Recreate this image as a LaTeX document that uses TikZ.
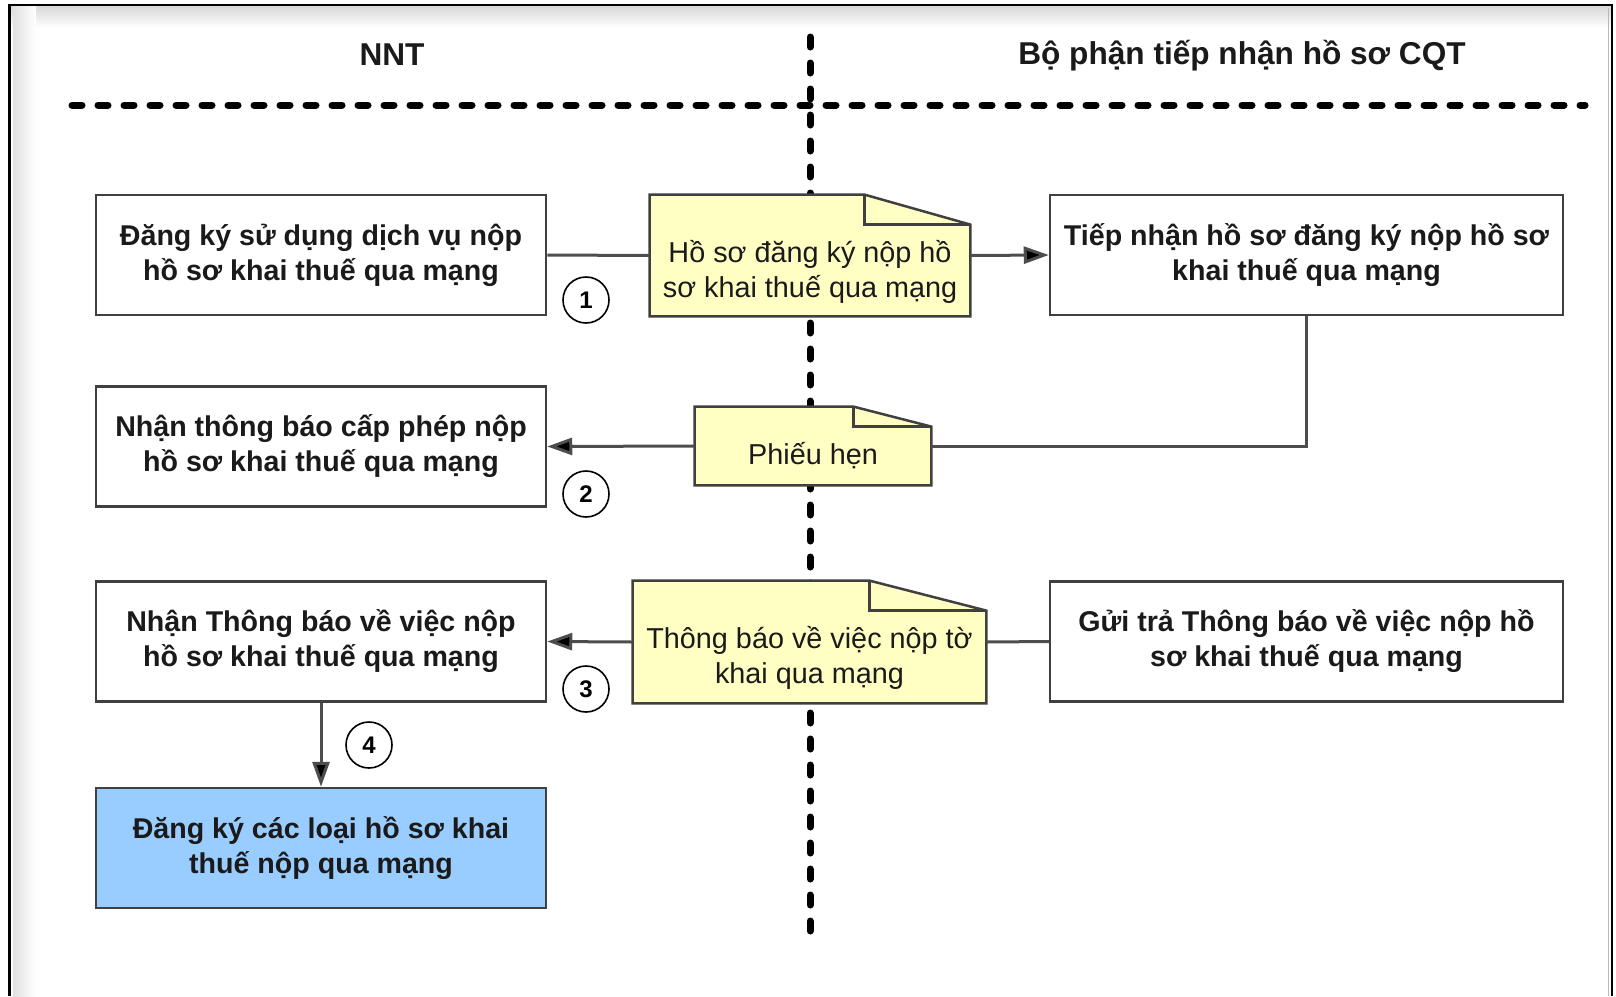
\documentclass[tikz,border=0pt]{standalone}
\usepackage{fontspec}
\setmainfont{Liberation Sans}
\usetikzlibrary{arrows.meta,calc}
\pgfdeclarelayer{bottom}
\pgfdeclarelayer{background}
\pgfsetlayers{bottom,background,main}
\definecolor{notefill}{HTML}{FFFFC4}
\definecolor{bluefill}{HTML}{99CCFF}
\definecolor{edgecol}{HTML}{404040}
\definecolor{conncol}{HTML}{4D4D4D}
\definecolor{txtcol}{HTML}{1A1A1A}
\tikzset{
  procbox/.style={draw=edgecol, line width=1.25pt, fill=white, minimum width=225pt, minimum height=60pt,
    align=center, inner sep=0pt, text=txtcol, font=\bfseries\fontsize{14.3}{17.5}\selectfont},
  notebox/.style={inner sep=0pt},
  notetext/.style={align=center, inner sep=0pt, text=txtcol, font=\fontsize{14.4}{17.5}\selectfont},
  header/.style={inner sep=0pt, text=txtcol, font=\bfseries\fontsize{15.8}{18}\selectfont},
  numcirc/.style={circle, draw=black, line width=0.8pt, fill=white, minimum size=23pt, inner sep=0pt,
    font=\bfseries\fontsize{12}{12}\selectfont},
  dotline/.style={black, line width=3.5pt, line cap=round, dash pattern=on 5pt off 8pt},
  plainconn/.style={conncol, line width=1.5pt},
  arrowconn/.style={conncol, line width=1.5pt, -{Triangle[length=12.5pt,width=8.5pt,fill=black]}},
}
\newcommand{\dogear}[3]{%
  \begin{pgfonlayer}{background}
    \fill[notefill] (#1.north west) -- ($(#1.north east)+(-#2,0)$) -- ($(#1.north east)+(0,#3)$)
      -- (#1.south east) -- (#1.south west) -- cycle;
    \draw[edgecol, line width=1.25pt, line join=miter] (#1.north west) -- ($(#1.north east)+(-#2,0)$)
      -- ($(#1.north east)+(0,#3)$) -- (#1.south east) -- (#1.south west) -- cycle;
    \draw[edgecol, line width=1.25pt] ($(#1.north east)+(-#2,0)$) -- ($(#1.north east)+(-#2,#3)$)
      -- ($(#1.north east)+(0,#3)$);
  \end{pgfonlayer}}
\begin{document}
\begin{tikzpicture}[x=0.5pt,y=-0.5pt]
\useasboundingbox (0,0) rectangle (1616,996);
% frame
\begin{pgfonlayer}{bottom}
\shade[top color=gray!30, bottom color=white] (10,6) rectangle (1611,28);
\shade[left color=gray!24, right color=white] (13,6) rectangle (36,996);
\draw[gray!55, line width=0.75pt] (1608.5,8) -- (1608.5,996);
\draw[black, line width=1.1pt] (9.5,996) -- (9.5,5) -- (1612,5) -- (1612,996);
% swimlane separators
\coordinate (hl) at (72,105);
\coordinate (hr) at (1585,105);
\coordinate (vt) at (810,37);
\coordinate (vb) at (810,938);
\draw[dotline] (hl) -- (hr);
\draw[dotline] (vt) -- (vb);
\end{pgfonlayer}
% headers
\node[header] (h1) at (392,55) {NNT};
\node[header] (h2) at (1242,56) {Bộ phận tiếp nhận hồ sơ CQT};
% process boxes
\node[procbox] (A) at (321,255) {Đăng ký sử dụng dịch vụ nộp\\hồ sơ khai thuế qua mạng};
\node[procbox] (D) at (321,446.5) {Nhận thông báo cấp phép nộp\\hồ sơ khai thuế qua mạng};
\node[procbox] (F) at (321,641.5) {Nhận Thông báo về việc nộp\\hồ sơ khai thuế qua mạng};
\node[procbox, fill=bluefill] (I) at (321,848) {Đăng ký các loại hồ sơ khai\\thuế nộp qua mạng};
\node[procbox, minimum width=256.5pt] (C) at (1306.5,255) {Tiếp nhận hồ sơ đăng ký nộp hồ sơ\\khai thuế qua mạng};
\node[procbox, minimum width=256.5pt] (H) at (1306.5,641.5) {Gửi trả Thông báo về việc nộp hồ\\sơ khai thuế qua mạng};
% notes
\node[notebox, minimum width=160pt, minimum height=60.5pt] (B) at (810,255.5) {};
\dogear{B}{106}{30}
\node[notetext] (Bt) at ($(B.center)+(0,16)$) {Hồ sơ đăng ký nộp hồ\\sơ khai thuế qua mạng};
\node[notebox, minimum width=118pt, minimum height=39pt] (E) at (813,446) {};
\dogear{E}{78}{20}
\node[notetext] (Et) at ($(E.center)+(0,10)$) {Phiếu hẹn};
\node[notebox, minimum width=176.5pt, minimum height=61pt] (G) at (809.5,642) {};
\dogear{G}{117}{30}
\node[notetext] (Gt) at ($(G.center)+(0,16)$) {Thông báo về việc nộp tờ\\khai qua mạng};
% connectors
\draw[plainconn] (A.east) -- (B.west);
\draw[arrowconn] (B.east) -- (C.west);
\draw[plainconn] (C.south) |- (E.east);
\draw[arrowconn] (E.west) -- (D.east);
\draw[plainconn] (H.west) -- (G.east);
\draw[arrowconn] (G.west) -- (F.east);
\draw[arrowconn] (F.south) -- (I.north);
% step numbers
\node[numcirc] (n1) at (586,300) {1};
\node[numcirc] (n2) at (586,494) {2};
\node[numcirc] (n3) at (586,689) {3};
\node[numcirc] (n4) at (369,745) {4};
\end{tikzpicture}
\end{document}
